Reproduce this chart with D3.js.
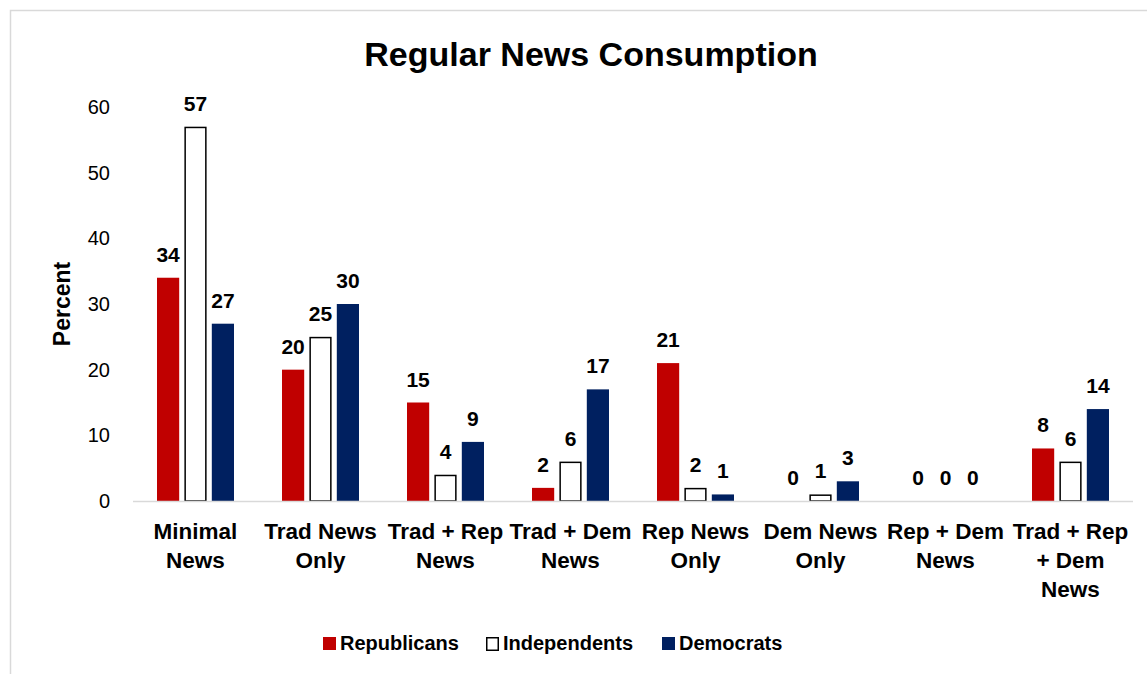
<!DOCTYPE html>
<html>
<head>
<meta charset="utf-8">
<script src="https://cdn.jsdelivr.net/npm/d3@7"></script>
<style>
  html, body { margin: 0; padding: 0; background: #fff; }
  svg { display: block; }
</style>
</head>
<body>
<svg id="chart" width="1147" height="674"></svg>
<script>
// News-consumption groups and share (%) of each party group
const categories = [
  ["Minimal", "News"],
  ["Trad News", "Only"],
  ["Trad + Rep", "News"],
  ["Trad + Dem", "News"],
  ["Rep News", "Only"],
  ["Dem News", "Only"],
  ["Rep + Dem", "News"],
  ["Trad + Rep", "+ Dem", "News"]
];
const seriesNames = ["Republicans", "Independents", "Democrats"];
const republicans  = [34, 20, 15, 2, 21, 0, 0, 8];
const independents = [57, 25, 4, 6, 2, 1, 0, 6];
const democrats    = [27, 30, 9, 17, 1, 3, 0, 14];
const yTicks = [0, 10, 20, 30, 40, 50, 60];

const fills   = ["#C00000", "#FFFFFF", "#002060"];
const strokes = ["none", "#000000", "none"];
const series = [republicans, independents, democrats];

const FONT = "Liberation Sans, Arial, sans-serif";
const svg = d3.select("#chart");
const W = 1147, H = 674;
const plot = { left: 133, right: 1133, top: 107, bottom: 501 };

// frame
svg.append("rect")
  .attr("x", 10.5).attr("y", 10.5)
  .attr("width", W).attr("height", H)
  .attr("fill", "#fff").attr("stroke", "#d9d9d9").attr("stroke-width", 1.5);

const x0 = d3.scaleBand()
  .domain(d3.range(categories.length))
  .range([plot.left, plot.right])
  .paddingInner(0).paddingOuter(0);

const x1 = d3.scaleBand()
  .domain(d3.range(seriesNames.length))
  .range([0, x0.bandwidth() * 0.616])
  .paddingInner(0.19);

const y = d3.scaleLinear().domain([0, 60]).range([plot.bottom, plot.top]);

// title
svg.append("text")
  .attr("x", 591).attr("y", 66)
  .attr("text-anchor", "middle")
  .attr("font-family", FONT)
  .attr("font-weight", "bold")
  .attr("font-size", 34)
  .attr("fill", "#000")
  .text("Regular News Consumption");

// y axis (labels only)
const yAxis = d3.axisLeft(y).tickValues(yTicks).tickSize(0).tickPadding(0);
const gy = svg.append("g")
  .attr("transform", `translate(${110},0)`)
  .call(yAxis);
gy.select(".domain").remove();
gy.selectAll("text")
  .attr("font-family", FONT)
  .attr("font-size", 20)
  .attr("fill", "#000");

// y axis title
svg.append("text")
  .attr("transform", `translate(${70},${304}) rotate(-90)`)
  .attr("text-anchor", "middle")
  .attr("font-family", FONT)
  .attr("font-weight", "bold")
  .attr("font-size", 23)
  .attr("fill", "#000")
  .text("Percent");

// bars
const groupOffset = (x0.bandwidth() - x1.range()[1]) / 2;
const groups = svg.append("g").selectAll("g")
  .data(categories.map((c, i) => i))
  .join("g")
  .attr("transform", i => `translate(${x0(i) + groupOffset},0)`);

groups.selectAll("rect")
  .data(i => series.map((s, k) => ({ k, v: s[i] })))
  .join("rect")
  .filter(d => d.v > 0)
  .attr("x", d => x1(d.k) + (d.k === 1 ? 0.75 : 0))
  .attr("width", d => x1.bandwidth() - (d.k === 1 ? 1.5 : 0))
  .attr("y", d => y(d.v) + (d.k === 1 ? 0.75 : 0))
  .attr("height", d => y(0) - y(d.v) - (d.k === 1 ? 0.75 : 0))
  .attr("fill", d => fills[d.k])
  .attr("stroke", d => strokes[d.k])
  .attr("stroke-width", 1.5);

// baseline
svg.append("line")
  .attr("x1", plot.left).attr("x2", plot.right)
  .attr("y1", y(0) + 0.5).attr("y2", y(0) + 0.5)
  .attr("stroke", "#d9d9d9").attr("stroke-width", 1.5);

// value labels
groups.selectAll("text.val")
  .data(i => series.map((s, k) => ({ k, v: s[i] })))
  .join("text")
  .attr("class", "val")
  .attr("x", d => x1(d.k) + x1.bandwidth() / 2)
  .attr("y", d => y(d.v) - 16)
  .attr("text-anchor", "middle")
  .attr("font-family", FONT)
  .attr("font-weight", "bold")
  .attr("font-size", 21)
  .attr("fill", "#000")
  .text(d => d.v);

// category labels
const catLabels = svg.append("g").selectAll("text")
  .data(categories.map((c, i) => ({ c, i })))
  .join("text")
  .attr("x", d => x0(d.i) + x0.bandwidth() / 2)
  .attr("y", 539)
  .attr("text-anchor", "middle")
  .attr("font-family", FONT)
  .attr("font-weight", "bold")
  .attr("font-size", 22.5)
  .attr("fill", "#000");
catLabels.selectAll("tspan")
  .data(d => d.c)
  .join("tspan")
  .attr("x", function () { return d3.select(this.parentNode).attr("x"); })
  .attr("dy", (d, j) => j === 0 ? 0 : 29)
  .text(d => d);

// legend
const legendX = [323, 486, 662];
const legend = svg.append("g").selectAll("g")
  .data(seriesNames.map((n, k) => ({ n, k })))
  .join("g")
  .attr("transform", d => `translate(${legendX[d.k]},${637})`);
legend.append("rect")
  .attr("x", d => d.k === 1 ? 0.75 : 0)
  .attr("y", d => d.k === 1 ? 0.75 : 0)
  .attr("width", d => d.k === 1 ? 11.5 : 13)
  .attr("height", d => d.k === 1 ? 12.5 : 13)
  .attr("fill", d => fills[d.k])
  .attr("stroke", d => strokes[d.k])
  .attr("stroke-width", 1.5);
legend.append("text")
  .attr("x", 17)
  .attr("y", 13)
  .attr("font-family", FONT)
  .attr("font-weight", "bold")
  .attr("font-size", 20)
  .attr("fill", "#000")
  .text(d => d.n);
</script>
</body>
</html>
